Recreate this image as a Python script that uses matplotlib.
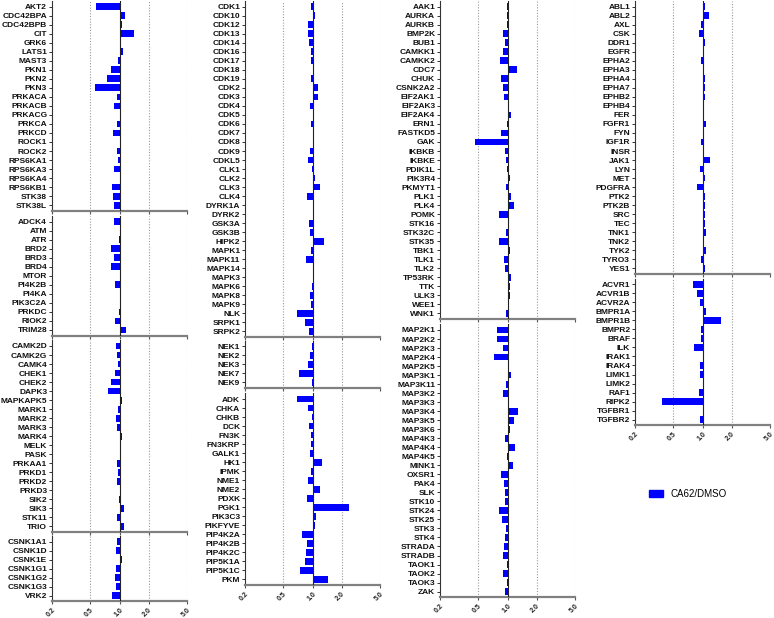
import numpy as np
import matplotlib
matplotlib.use("Agg")
import matplotlib.pyplot as plt
from matplotlib.patches import Patch
from matplotlib.ticker import NullLocator

plt.rcParams['font.family'] = ['Liberation Sans', 'DejaVu Sans']

# CA62/DMSO ratio per kinase, grouped by family
agc_names = ["AKT2", "CDC42BPA", "CDC42BPB", "CIT", "GRK6", "LATS1", "MAST3", "PKN1", "PKN2", "PKN3",
             "PRKACA", "PRKACB", "PRKACG", "PRKCA", "PRKCD", "ROCK1", "ROCK2", "RPS6KA1", "RPS6KA3",
             "RPS6KA4", "RPS6KB1", "STK38", "STK38L"]
agc_vals = [0.574, 1.15, 1.066, 1.41, 1.03, 1.08, 0.96, 0.81, 0.745, 0.56,
            0.946, 0.867, 1.03, 0.94, 0.853, 1.02, 0.953, 0.96, 0.867,
            1.03, 0.84, 0.853, 0.88]

atyp_names = ["ADCK4", "ATM", "ATR", "BRD2", "BRD3", "BRD4", "MTOR", "PI4K2B", "PI4KA", "PIK3C2A",
              "PRKDC", "RIOK2", "TRIM28"]
atyp_vals = [0.867, 1.03, 0.985, 0.826, 0.88, 0.826, 1.03, 0.895, 1.02, 1.04,
             0.995, 0.909, 1.16]

camk_names = ["CAMK2D", "CAMK2G", "CAMK4", "CHEK1", "CHEK2", "DAPK3", "MAPKAPK5", "MARK1", "MARK2",
              "MARK3", "MARK4", "MELK", "PASK", "PRKAA1", "PRKD1", "PRKD2", "PRKD3", "SIK2", "SIK3",
              "STK11", "TRIO"]
camk_vals = [0.924, 0.938, 0.976, 0.909, 0.826, 0.757, 1.057, 0.96, 0.924,
             0.953, 1.057, 1.02, 1.02, 0.938, 0.96, 0.938, 1.03, 0.985, 1.11,
             0.938, 1.126]

ck1_names = ["CSNK1A1", "CSNK1D", "CSNK1E", "CSNK1G1", "CSNK1G2", "CSNK1G3", "VRK2"]
ck1_vals = [0.946, 0.924, 1.074, 0.924, 0.895, 0.93, 0.846]

cmgc_names = ["CDK1", "CDK10", "CDK12", "CDK13", "CDK14", "CDK16", "CDK17", "CDK18", "CDK19", "CDK2",
              "CDK3", "CDK4", "CDK5", "CDK6", "CDK7", "CDK8", "CDK9", "CDKL5", "CLK1", "CLK2", "CLK3",
              "CLK4", "DYRK1A", "DYRK2", "GSK3A", "GSK3B", "HIPK2", "MAPK1", "MAPK11", "MAPK14",
              "MAPK3", "MAPK6", "MAPK8", "MAPK9", "NLK", "SRPK1", "SRPK2"]
cmgc_vals = [0.954, 1.065, 0.896, 0.896, 0.91, 0.969, 0.954, 1.02, 0.954, 1.152,
             1.134, 0.939, 1.02, 0.969, 1.016, 1.016, 0.939, 0.896, 0.984, 1.073, 1.189,
             0.882, 1.016, 1.016, 0.91, 0.939, 1.327, 0.954, 0.855, 1.02,
             1.02, 0.977, 0.939, 0.969, 0.686, 0.828, 0.924]

nek_names = ["NEK1", "NEK2", "NEK3", "NEK7", "NEK9"]
nek_vals = [0.984, 0.939, 0.896, 0.73, 0.977]

misc_names = ["ADK", "CHKA", "CHKB", "DCK", "FN3K", "FN3KRP", "GALK1", "HK1", "IPMK", "NME1", "NME2",
              "PDXK", "PGK1", "PIK3C3", "PIKFYVE", "PIP4K2A", "PIP4K2B", "PIP4K2C", "PIP5K1A",
              "PIP5K1C", "PKM"]
misc_vals = [0.686, 0.896, 0.977, 0.924, 0.954, 0.969, 0.939, 1.246, 0.954, 0.896, 1.207,
             0.882, 2.37, 1.082, 1.065, 0.778, 0.882, 0.855, 0.841,
             0.742, 1.436]

other_names = ["AAK1", "AURKA", "AURKB", "BMP2K", "BUB1", "CAMKK1", "CAMKK2", "CDC7", "CHUK",
               "CSNK2A2", "EIF2AK1", "EIF2AK3", "EIF2AK4", "ERN1", "FASTKD5", "GAK", "IKBKB", "IKBKE",
               "PDIK1L", "PIK3R4", "PKMYT1", "PLK1", "PLK4", "POMK", "STK16", "STK32C", "STK35",
               "TBK1", "TLK1", "TLK2", "TP53RK", "TTK", "ULK3", "WEE1", "WNK1"]
other_vals = [0.984, 0.992, 0.992, 0.909, 0.938, 0.902, 0.833, 1.258, 0.86,
              0.888, 0.916, 1.04, 1.082, 0.992, 0.86, 0.46, 0.946, 0.969,
              0.992, 1.049, 0.961, 1.082, 1.163, 0.82, 1.04, 0.969, 0.82,
              1.057, 0.916, 0.931, 1.082, 1.049, 1.049, 1.04, 0.961]

ste_names = ["MAP2K1", "MAP2K2", "MAP2K3", "MAP2K4", "MAP2K5", "MAP3K1", "MAP3K11", "MAP3K2",
             "MAP3K3", "MAP3K4", "MAP3K5", "MAP3K6", "MAP4K3", "MAP4K4", "MAP4K5", "MINK1", "OXSR1",
             "PAK4", "SLK", "STK10", "STK24", "STK25", "STK3", "STK4", "STRADA", "STRADB", "TAOK1",
             "TAOK2", "TAOK3", "ZAK"]
ste_vals = [0.782, 0.782, 0.888, 0.722, 1.032, 1.1, 0.969, 0.902,
            1.032, 1.279, 1.181, 1.065, 0.931, 1.21, 0.992, 1.144, 0.86,
            0.916, 0.946, 0.946, 0.82, 0.874, 0.961, 0.931, 0.924, 0.902, 0.992,
            0.902, 0.992, 0.946]

tk_names = ["ABL1", "ABL2", "AXL", "CSK", "DDR1", "EGFR", "EPHA2", "EPHA3", "EPHA4", "EPHA7", "EPHB2",
            "EPHB4", "FER", "FGFR1", "FYN", "IGF1R", "INSR", "JAK1", "LYN", "MET", "PDGFRA", "PTK2",
            "PTK2B", "SRC", "TEC", "TNK1", "TNK2", "TYK2", "TYRO3", "YES1"]
tk_vals = [1.049, 1.155, 0.976, 0.916, 1.074, 1.024, 0.976, 1.008, 1.057, 1.057, 1.057,
           1.016, 1.016, 1.092, 1.016, 0.976, 1.016, 1.183, 0.946, 1.074, 0.873, 1.049,
           1.057, 1.049, 1.049, 1.092, 1.016, 1.092, 0.976, 1.074]

tkl_names = ["ACVR1", "ACVR1B", "ACVR2A", "BMPR1A", "BMPR1B", "BMPR2", "BRAF", "ILK", "IRAK1",
             "IRAK4", "LIMK1", "LIMK2", "RAF1", "RIPK2", "TGFBR1", "TGFBR2"]
tkl_vals = [0.793, 0.887, 0.931, 1.092, 1.54, 0.976, 0.969, 0.819, 1.016,
            0.946, 0.946, 1.016, 0.916, 0.377, 1.016, 0.946]

xticks = [0.2, 0.5, 1.0, 2.0, 5.0]
xtick_labels = ["0.2", "0.5", "1.0", "2.0", "5.0"]

columns = [
    [(agc_names, agc_vals), (atyp_names, atyp_vals), (camk_names, camk_vals), (ck1_names, ck1_vals)],
    [(cmgc_names, cmgc_vals), (nek_names, nek_vals), (misc_names, misc_vals)],
    [(other_names, other_vals), (ste_names, ste_vals)],
    [(tk_names, tk_vals), (tkl_names, tkl_vals)],
]

# layout in pixels (first row centre of each panel, left edge of each column)
first_row = [[6.7, 221.7, 346.0, 541.7], [6.7, 346.3, 399.0], [6.7, 330.0], [6.7, 284.3]]
col_left = [52, 245, 440, 635]
W, H = 774, 618
pitch = 9.02
pad = 0.62
panel_w = 135

fig = plt.figure(figsize=(W / 100, H / 100), dpi=100)

for ci, groups in enumerate(columns):
    for gi, (names, vals) in enumerate(groups):
        n = len(names)
        top = first_row[ci][gi] - pad * pitch
        h = (n - 1 + 2 * pad) * pitch
        ax = fig.add_axes([col_left[ci] / W, 1 - (top + h) / H, panel_w / W, h / H])
        ax.set_xscale('log')
        ax.set_xlim(0.2, 5)
        ax.set_ylim(n - 1 + pad, -pad)

        for g in [0.5, 2.0, 5.0]:
            ax.axvline(g, color='#9a9a9a', lw=0.8, ls=(0, (1, 1.5)), zorder=0)

        y = np.arange(n)
        ax.barh(y, np.array(vals) - 1, left=1, height=0.75, color='#0000ff', zorder=2)
        ax.axvline(1, color='#222222', lw=0.8, zorder=3)

        ax.set_yticks(y)
        ax.set_yticklabels(names, fontsize=6, fontweight='bold', color='#111111')
        ax.set_xticks(xticks)
        ax.xaxis.set_minor_locator(NullLocator())
        if gi == len(groups) - 1:
            ax.set_xticklabels(xtick_labels, rotation=45, fontsize=5, fontweight='bold',
                               ha='right', va='top', rotation_mode='anchor', color='#222222')
        else:
            ax.set_xticklabels([])

        ax.tick_params(axis='y', length=2.5, width=0.7, pad=1, color='#333333')
        ax.tick_params(axis='x', length=2.5, width=0.8, pad=1.5, color='#555555')
        ax.spines['top'].set_visible(False)
        ax.spines['right'].set_visible(False)
        ax.spines['left'].set_color('#333333')
        ax.spines['left'].set_linewidth(0.8)
        ax.spines['bottom'].set_color('#808080')
        ax.spines['bottom'].set_linewidth(1.6)
        ax.set_facecolor('none')

fig.legend(handles=[Patch(color='#0000ff', label='CA62/DMSO')], loc='center left',
           bbox_to_anchor=(649 / W, 1 - 494 / H), frameon=False, fontsize=7,
           borderpad=0, borderaxespad=0, handlelength=1.45, handletextpad=0.75)

fig.savefig('out.png', dpi=100)
